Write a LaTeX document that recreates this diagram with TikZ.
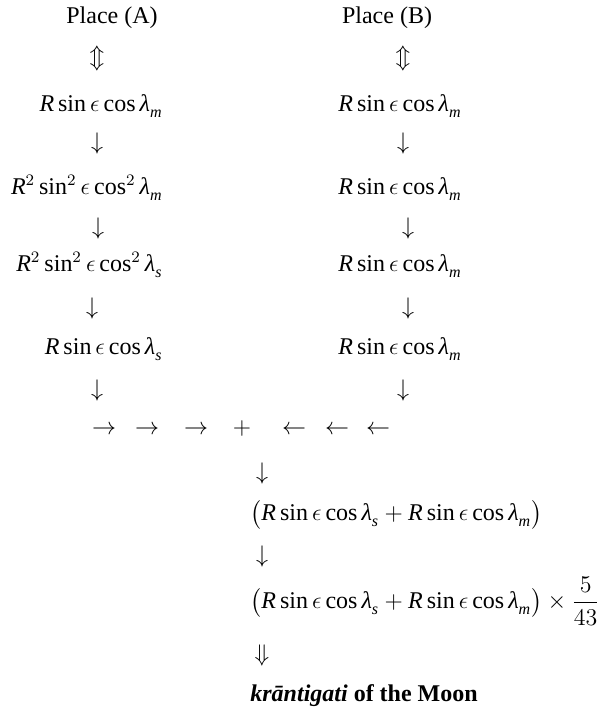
\documentclass[tikz,border=0pt]{standalone}
\usepackage{amsmath}
\usepackage{fontspec}
\setmainfont{Liberation Serif}
\DeclareSymbolFont{tuletters}{TU}{\rmdefault}{m}{it}
\Umathcode`R="7 \symtuletters `R
\Umathcode`m="7 \symtuletters `m
\Umathcode`s="7 \symtuletters `s
\Umathchardef\lambda="7 \symtuletters "03BB
\everymath{\fontdimen16\textfont2=3pt \fontdimen17\textfont2=3pt}
\tikzset{
  every picture/.style={font=\fontsize{12}{14}\selectfont},
  lhs/.style={anchor=mid east, inner sep=0pt},
  rhs/.style={anchor=mid, inner sep=0pt},
  sym/.style={anchor=mid, inner sep=0pt},
  res/.style={anchor=mid west, inner sep=0pt},
}
\newcommand{\rsc}[1]{R\sin\epsilon\cos\lambda_{#1}}
\begin{document}
\begin{tikzpicture}[x=0.5pt, y=-0.5pt]
  \useasboundingbox (0,0) rectangle (604,710);
  % the two places
  \node[sym] (placeA) at (112,19) {Place (A)};
  \node[sym] (placeB) at (387,19) {Place (B)};
  \node[sym] (udA) at (97,60) {$\Updownarrow$};
  \node[sym] (udB) at (403,60) {$\Updownarrow$};
  % column A
  \node[lhs] (a1) at (163,107) {$\rsc{m}$};
  \node[lhs] (a2) at (163,190) {$R^2\sin^2\epsilon\cos^2\lambda_m$};
  \node[lhs] (a3) at (163,267) {$R^2\sin^2\epsilon\cos^2\lambda_s$};
  \node[lhs] (a4) at (163,350) {$\rsc{s}$};
  \foreach \x/\y [count=\i] in {97/145, 98/230, 92/310, 97/392}
    \node[sym] (dA\i) at (\x,\y) {$\downarrow$};
  % column B
  \foreach \y [count=\i] in {107,190,267,350}
    \node[rhs] (b\i) at (400,\y) {$\rsc{m}$};
  \foreach \x/\y [count=\i] in {403/145, 408/230, 408/310, 403/392}
    \node[sym] (dB\i) at (\x,\y) {$\downarrow$};
  % joining row
  \foreach \x [count=\i] in {104,147,196}
    \node[sym] (ra\i) at (\x,430) {$\rightarrow$};
  \node[sym] (plus) at (242,430) {$+$};
  \foreach \x [count=\i] in {294,337,378}
    \node[sym] (la\i) at (\x,430) {$\leftarrow$};
  % result
  \node[sym] (d5) at (262,475) {$\downarrow$};
  \node[res] (s1) at (250,516) {$\bigl(\rsc{s}+\rsc{m}\bigr)$};
  \node[sym] (d6) at (262,558) {$\downarrow$};
  \node[res] (s2) at (250,604) {$\bigl(\rsc{s}+\rsc{m}\bigr)\times\dfrac{5}{43}$};
  \node[sym] (dd) at (262,657) {$\Downarrow$};
  \node[res] (moon) at (250,697) {\textbf{\textit{krāntigati} of the Moon}};
\end{tikzpicture}
\end{document}
